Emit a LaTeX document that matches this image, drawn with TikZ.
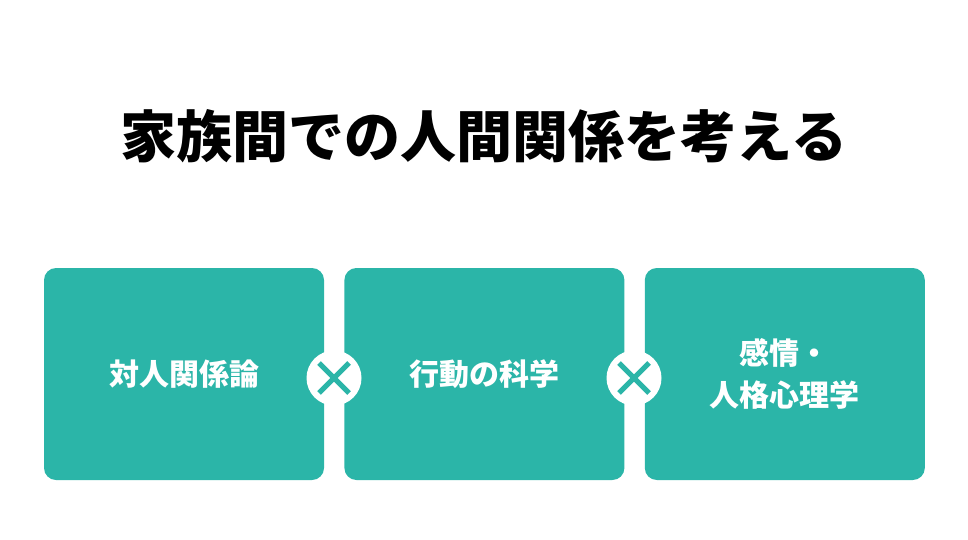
\documentclass[tikz,border=0pt]{standalone}
\usepackage{fontspec}
\newfontfamily\jpfont{Noto Sans CJK JP}
\usepackage{tikz}
\usetikzlibrary{positioning}
\definecolor{teal}{RGB}{43,181,168}

\begin{document}
\begin{tikzpicture}[x=1pt, y=-1pt, node distance={20pt},
    box/.style = {fill=teal, rounded corners=12pt, minimum width=280pt, minimum height=212pt,
                  inner sep=0pt, text=white, font=\jpfont\bfseries\fontsize{30}{42}\selectfont, align=center},
    times/.style = {circle, fill=white, minimum size=55pt, inner sep=0pt},
    bar/.style = {teal, line width=5pt}]
            \useasboundingbox (0,0) rectangle (968,540);
            % Title
            \node[font=\jpfont\bfseries\fontsize{56}{60}\selectfont] (title) at (484,136) {家族間での人間関係を考える};
            % Boxes
            \node[box] (b1) at (184,374) {対人関係論};
            \node[box] (b2) [right=of b1] {行動の科学};
            \node[box] (b3) [right=of b2] {感情・\\人格心理学};
            % Crosses
            \node[times] (x1) at (334,378) {};
            \node[times] (x2) at (634,378) {};
            \draw[bar] ([shift={(-15,-15)}]x1.center) -- ([shift={(15,15)}]x1.center);
            \draw[bar] ([shift={(-15,15)}]x1.center) -- ([shift={(15,-15)}]x1.center);
            \draw[bar] ([shift={(-15,-15)}]x2.center) -- ([shift={(15,15)}]x2.center);
            \draw[bar] ([shift={(-15,15)}]x2.center) -- ([shift={(15,-15)}]x2.center);
\end{tikzpicture}
\end{document}
